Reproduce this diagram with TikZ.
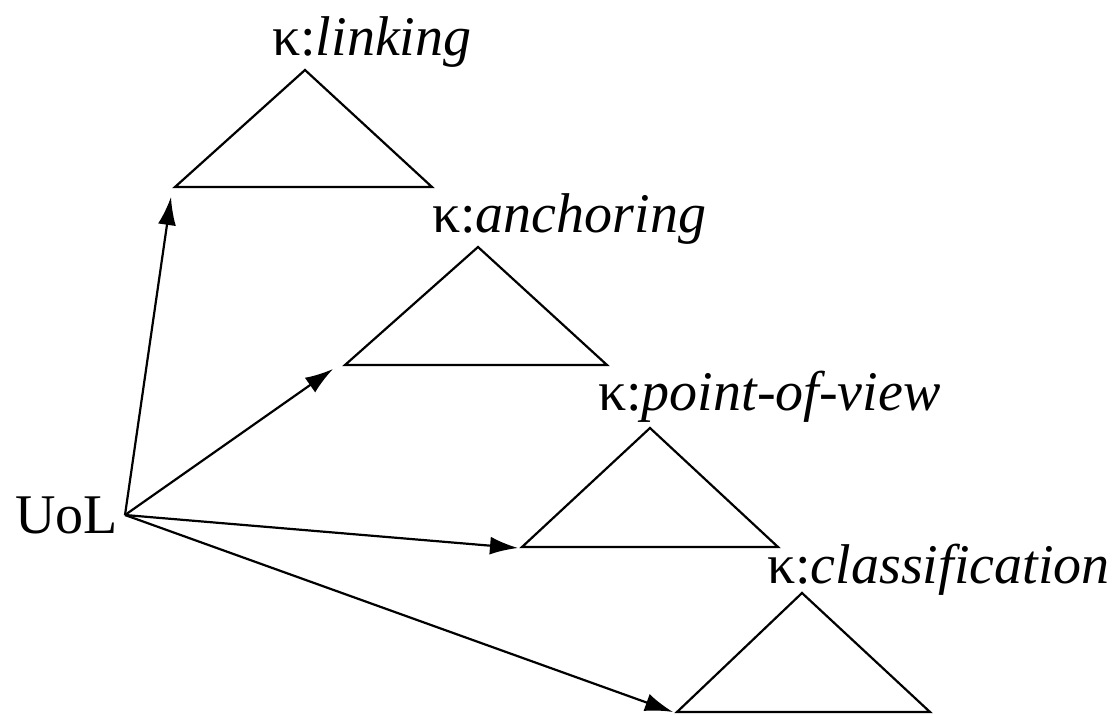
\documentclass[tikz,border=0pt]{standalone}
\usepackage{fontspec}
\setmainfont{Liberation Serif}
\usetikzlibrary{arrows.meta}
\tikzset{
  lbl/.style={inner sep=0pt, anchor=base west, font=\fontsize{56}{60}\selectfont},
  tri/.style={line width=2.2pt, line join=miter},
  link/.style={line width=2.2pt, -{Latex[length=28pt,width=18pt]}}
}
\begin{document}
\begin{tikzpicture}[x=1pt,y=-1pt]
  \useasboundingbox (0,0) rectangle (1117,715);

  % source node
  \node[lbl, anchor=base west] (uol) at (15,533) {UoL};
  \coordinate (src) at (125,515);

  % labels
  \node[lbl] (l1) at (272,55) {κ:\textit{linking}};
  \node[lbl] (l2) at (432,232) {κ:\textit{anchoring}};
  \node[lbl] (l3) at (598,410) {κ:\textit{point-of-view}};
  \node[lbl] (l4) at (767,583) {κ:\textit{classification}};

  % triangles
  \draw[tri] (175,187) -- (305,70) -- (432,187) -- cycle;
  \draw[tri] (345,365) -- (478,247) -- (607,365) -- cycle;
  \draw[tri] (522,547) -- (650,428) -- (778,547) -- cycle;
  \draw[tri] (677,712) -- (802,593) -- (930,712) -- cycle;

  % arrow targets
  \coordinate (t1) at (171,197);
  \coordinate (t2) at (333,369);
  \coordinate (t3) at (518,548);
  \coordinate (t4) at (673,712);

  \draw[link] (src) -- (t1);
  \draw[link] (src) -- (t2);
  \draw[link] (src) -- (t3);
  \draw[link] (src) -- (t4);
\end{tikzpicture}
\end{document}
